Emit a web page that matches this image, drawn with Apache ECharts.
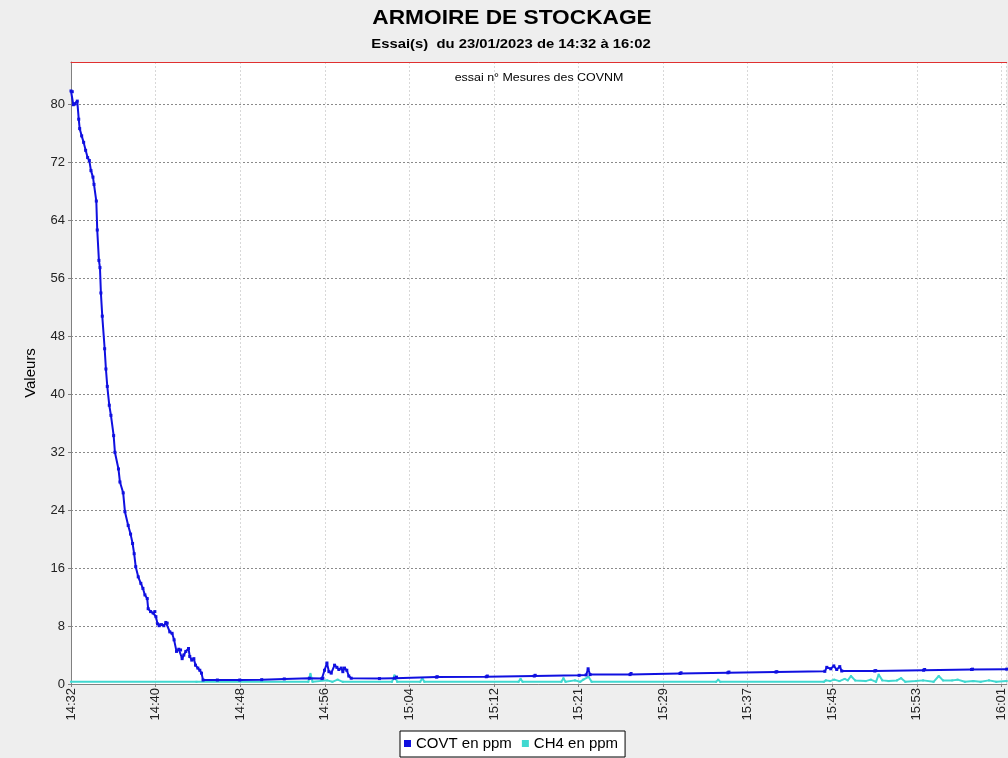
<!DOCTYPE html>
<html>
<head>
<meta charset="utf-8">
<script src="https://cdn.jsdelivr.net/npm/echarts@6/dist/echarts.min.js"></script>
<style>
html,body{margin:0;padding:0;background:#eeeeee;}
#chart{width:1008px;height:758px;}
</style>
</head>
<body>
<div id="chart"></div>
<script>
// x values are minutes elapsed since 14:32
var xTickLabels = ['14:32','14:40','14:48','14:56','15:04','15:12','15:21','15:29','15:37','15:45','15:53','16:01'];
var yTicks = [0, 8, 16, 24, 32, 40, 48, 56, 64, 72, 80];
var seriesNames = ['COVT en ppm', 'CH4 en ppm'];

var covtData = [
  [0,81.9],[0.12,81.8],[0.22,80.0],[0.38,80.1],[0.60,80.5],[0.74,78.0],[0.83,76.7],[1.02,75.7],
  [1.21,74.8],[1.40,73.7],[1.59,72.7],[1.75,72.3],[1.91,70.9],[2.10,70.0],[2.20,69.0],[2.42,66.7],
  [2.51,62.7],[2.67,58.5],[2.77,57.5],[2.86,54.0],[2.99,50.8],[3.22,46.3],[3.34,43.5],[3.47,41.1],
  [3.66,38.5],[3.82,37.1],[4.08,34.3],[4.20,32.0],[4.54,29.7],[4.68,27.9],[4.99,26.4],[5.16,23.8],
  [5.47,21.9],[5.70,20.7],[5.89,19.4],[6.04,18.0],[6.19,16.2],[6.43,14.8],[6.68,13.9],[6.88,13.2],
  [7.07,12.3],[7.29,11.8],[7.38,10.4],[7.61,10.0],[7.86,9.8],[8.02,10.0],[8.12,9.3],[8.28,8.3],
  [8.43,8.05],[8.66,8.2],[8.88,8.05],[9.07,8.5],[9.20,8.4],[9.45,7.2],[9.67,7.0],[9.86,6.1],
  [10.09,4.5],[10.31,4.8],[10.48,4.7],[10.63,3.5],[10.79,4.0],[10.98,4.5],[11.24,4.9],[11.36,3.8],
  [11.55,3.3],[11.75,3.5],[11.91,2.6],[12.13,2.2],[12.32,1.9],[12.48,1.5],[12.63,0.55],
  [14.0,0.55],[16.14,0.55],[18.24,0.6],[20.4,0.7],[22.8,0.8],[24.0,0.75],[24.09,0.8],[24.25,1.9],
  [24.48,2.9],[24.67,1.7],[24.89,1.5],[25.21,2.6],[25.43,2.3],[25.62,2.0],[25.85,2.2],[26.0,1.7],
  [26.16,2.2],[26.38,1.9],[26.57,1.1],[26.8,0.8],[29.5,0.75],[30.94,0.8],[31.13,0.95],[34.95,0.95],
  [35.04,1.0],[39.72,1.0],[39.82,1.1],[44.31,1.1],[44.4,1.2],[48.6,1.2],[49.27,1.25],[49.46,2.1],
  [49.65,1.3],[53.47,1.3],[53.57,1.45],[58.25,1.45],[58.35,1.55],[62.83,1.55],[62.93,1.65],
  [67.42,1.65],[67.51,1.7],[72.1,1.75],[72.29,2.3],[72.67,2.1],[72.96,2.5],[73.24,2.0],[73.53,2.4],
  [73.72,1.8],[76.87,1.8],[76.97,1.85],[81.55,1.9],[81.65,2.0],[86.13,2.0],[86.23,2.05],[89.5,2.05]
];

var ch4Data = [
  [0,0.3],[12,0.3],[22.7,0.3],[22.9,1.4],[23.1,0.3],[24.5,0.5],[25,0.3],[25.5,0.6],[26,0.3],
  [30.7,0.3],[30.94,1.2],[31.2,0.3],[33.4,0.3],[33.6,0.8],[33.8,0.3],[42.8,0.3],[43.0,0.7],[43.2,0.3],
  [46.9,0.3],[47.1,0.8],[47.3,0.3],[48.2,0.5],[48.7,0.3],[49.0,0.6],[49.5,1.0],[49.8,0.3],
  [61.7,0.3],[61.9,0.6],[62.1,0.3],[72.0,0.3],[72.2,0.5],[72.6,0.4],[73.0,0.6],[73.5,0.4],[74.0,0.7],
  [74.3,0.5],[74.6,1.1],[75.0,0.5],[76.0,0.4],[76.5,0.6],[77.0,0.3],[77.25,1.3],[77.6,0.5],[78.2,0.4],
  [79.0,0.5],[79.4,0.8],[79.8,0.3],[80.8,0.4],[81.5,0.5],[82.5,0.3],[83.0,1.1],[83.4,0.5],[84.3,0.5],
  [84.8,0.6],[85.5,0.3],[86.3,0.4],[87.0,0.3],[87.8,0.5],[88.5,0.3],[89.5,0.4]
];

var xInterval = 89 / 11;
var chart = echarts.init(document.getElementById('chart'));
var fontFam = 'Liberation Sans, Arial, sans-serif';
chart.setOption({
  backgroundColor: '#eeeeee',
  animation: false,
  textStyle: {fontFamily: fontFam},
  graphic: [
    {type: 'text', x: 512, y: 8, scaleX: 1.08, style: {text: 'ARMOIRE DE STOCKAGE', textAlign: 'center', fontSize: 21, fontWeight: 'bold', fontFamily: fontFam, fill: '#000'}},
    {type: 'text', x: 511, y: 38, scaleX: 1.14, style: {text: 'Essai(s)  du 23/01/2023 de 14:32 à 16:02', textAlign: 'center', fontSize: 13, fontWeight: 'bold', fontFamily: fontFam, fill: '#000'}},
    {type: 'text', x: 539, y: 72, z: 100, scaleX: 1.13, style: {text: 'essai n° Mesures des COVNM', textAlign: 'center', fontSize: 11, fontFamily: fontFam, fill: '#000'}}
  ],
  grid: {left: 71, top: 62, right: 0, bottom: 74, show: true, backgroundColor: '#ffffff', borderWidth: 0},
  legend: {
    data: seriesNames, left: 400, top: 731, orient: 'horizontal',
    padding: [5, 7, 6, 4], itemGap: 10, itemWidth: 7, itemHeight: 7, icon: 'rect',
    backgroundColor: '#ffffff', borderColor: '#000', borderWidth: 1, borderRadius: 0,
    textStyle: {fontSize: 15, color: '#000', fontFamily: fontFam}
  },
  xAxis: [{
    type: 'value', min: 0, max: 89.5, interval: xInterval,
    axisLine: {show: true, lineStyle: {color: '#808080'}},
    axisTick: {show: true, length: 3, lineStyle: {color: '#808080'}},
    axisLabel: {
      rotate: 90, fontSize: 13, color: '#222', margin: 4, showMaxLabel: false,
      formatter: function (v) { var i = Math.round(v / xInterval); return xTickLabels[i] || ''; }
    },
    splitLine: {show: true, lineStyle: {color: '#d8d8d8', type: [2, 2], width: 1}}
  }, {
    type: 'value', position: 'top', min: 0, max: 1,
    axisLine: {show: true, lineStyle: {color: '#e03030', width: 1}},
    axisTick: {show: false}, axisLabel: {show: false}, splitLine: {show: false}
  }],
  yAxis: {
    type: 'value', min: 0, max: 85.9, interval: 8,
    name: 'Valeurs', nameLocation: 'middle', nameGap: 33, nameRotate: 90,
    nameTextStyle: {fontSize: 15, color: '#000'},
    axisLine: {show: true, lineStyle: {color: '#808080'}},
    axisTick: {show: true, length: 3, lineStyle: {color: '#808080'}},
    axisLabel: {fontSize: 13, color: '#222', margin: 6, showMaxLabel: false,
      formatter: function (v) { return yTicks.indexOf(v) >= 0 ? String(v) : ''; }},
    splitLine: {show: true, lineStyle: {color: '#8a8a8a', type: [2, 2], width: 1}}
  },
  series: [
    {name: seriesNames[0], type: 'line', data: covtData, z: 3, color: '#1010e0', xAxisIndex: 0,
     symbol: 'rect', symbolSize: 3, showSymbol: true, showAllSymbol: true,
     lineStyle: {width: 2, color: '#1010e0'}, itemStyle: {color: '#1010e0'}},
    {name: seriesNames[1], type: 'line', data: ch4Data, z: 2, color: '#40d8d0', xAxisIndex: 0,
     symbol: 'rect', symbolSize: 2, showSymbol: true, showAllSymbol: true,
     lineStyle: {width: 2, color: '#40d8d0'}, itemStyle: {color: '#40d8d0'}}
  ]
});
</script>
</body>
</html>
